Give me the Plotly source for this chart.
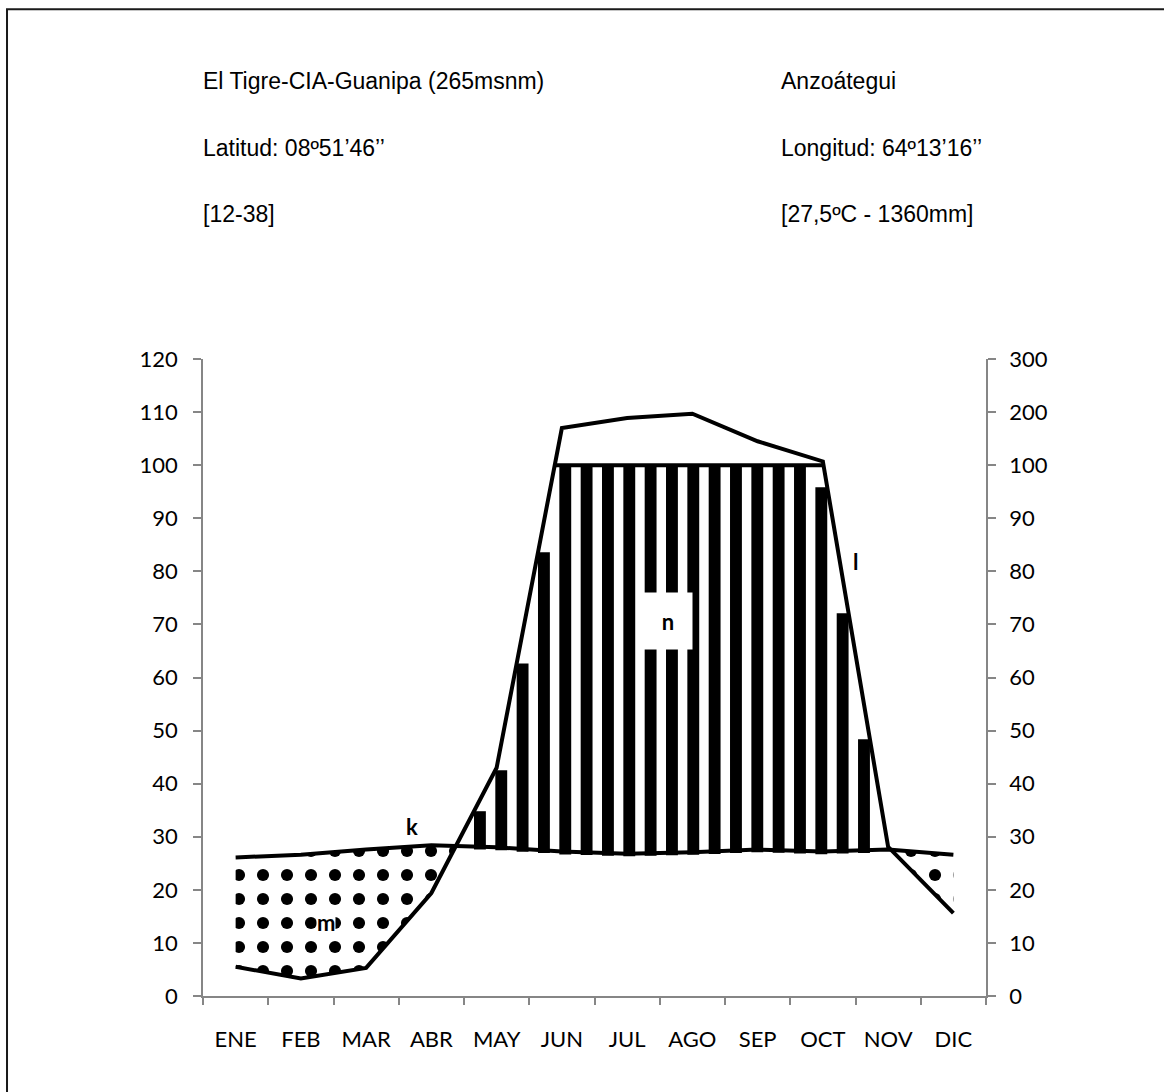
import numpy as np
import plotly.graph_objects as go

# ---- climate data -------------------------------------------------------
months = ["ENE", "FEB", "MAR", "ABR", "MAY", "JUN",
          "JUL", "AGO", "SEP", "OCT", "NOV", "DIC"]
temp_c = [26.1, 26.6, 27.6, 28.4, 28.0, 27.2, 26.8, 27.1, 27.6, 27.2, 27.6, 26.6]
precip_mm = [5.5, 3.3, 5.3, 19.4, 43.0, 170.0, 189.0, 197.0, 145.0, 107.0, 28.1, 15.6]

left_ticks = list(range(0, 121, 10))
right_ticks_mm = [0, 10, 20, 30, 40, 50, 60, 70, 80, 90, 100, 200, 300]

station = "El Tigre-CIA-Guanipa (265msnm)"
state = "Anzoátegui"
lat_txt = "Latitud: 08º51’46’’"
lon_txt = "Longitud: 64º13’16’’"
period_txt = "[12-38]"
means_txt = "[27,5ºC - 1360mm]"

FONT_TXT = "Liberation Sans, Arial, sans-serif"
FONT_AX = "Lato, Calibri, sans-serif"


def to_scale(mm):
    """Walter-Lieth scale: linear up to 100 mm, then 100 mm per 10 units."""
    mm = np.asarray(mm, dtype=float)
    return np.where(mm <= 100, mm, 100 + (mm - 100) / 10.0)


x = np.arange(len(months), dtype=float)
T = np.asarray(temp_c, dtype=float)
P = to_scale(precip_mm)


def dry_regions(xs, t, p):
    """Polygons of the periods where the temperature curve lies above rain."""
    d = p - t
    regions, cur = [], None
    for i in range(len(xs)):
        if i > 0 and (d[i - 1] > 0) != (d[i] > 0):
            f = d[i - 1] / (d[i - 1] - d[i])
            xc = xs[i - 1] + f * (xs[i] - xs[i - 1])
            yc = t[i - 1] + f * (t[i] - t[i - 1])
            if cur is None:
                cur = [(xc, yc, yc)]
            else:
                cur.append((xc, yc, yc))
                regions.append(cur)
                cur = None
        if d[i] <= 0:
            if cur is None:
                cur = []
            cur.append((xs[i], t[i], p[i]))
    if cur:
        regions.append(cur)
    polys = []
    for r in regions:
        px = [a for a, _, _ in r] + [a for a, _, _ in reversed(r)]
        py = [b for _, b, _ in r] + [c for _, _, c in reversed(r)]
        polys.append((px, py))
    return polys


fig = go.Figure()

# ---- humid period: vertical black hatching bars -------------------------
pitch, phase, bw = 0.327, 0.147, 0.182
hx = phase + pitch * np.arange(int((11.5 - phase) / pitch) + 1)
top = np.minimum(np.minimum(np.interp(hx - bw / 2, x, P),
                            np.interp(hx + bw / 2, x, P)), 100.0)
base = np.interp(hx, x, T) - 0.5
keep = (top - base) > 1.5
fig.add_trace(go.Bar(
    x=hx[keep], y=(top - base)[keep], base=base[keep], width=bw,
    marker=dict(color="black", line=dict(width=0)),
    hoverinfo="skip", showlegend=False,
))

# ---- dry periods: dotted fill --------------------------------------------
for px, py in dry_regions(x, T, P):
    fig.add_trace(go.Scatter(
        x=px, y=py, mode="none", fill="toself",
        fillcolor="rgba(0,0,0,0)",
        fillpattern=dict(shape=".", size=24, solidity=0.2,
                         fgcolor="black", fgopacity=1, bgcolor="white"),
        hoverinfo="skip", showlegend=False,
    ))

# ---- 100 mm cap line across the super-humid months ------------------------
above = np.where(P >= 100)[0]
if above.size:
    i0, i1 = above[0], above[-1]
    x_start = x[i0] if i0 == 0 else x[i0 - 1] + (100 - P[i0 - 1]) / (P[i0] - P[i0 - 1])
    x_end = x[i1] if i1 == len(x) - 1 else x[i1] + (P[i1] - 100) / (P[i1] - P[i1 + 1])
    cap_x = [x_start] + list(x[i0:i1 + 1]) + [x_end]
    fig.add_trace(go.Scatter(
        x=cap_x, y=[100.0] * len(cap_x), mode="lines",
        line=dict(color="black", width=4), hoverinfo="skip", showlegend=False,
    ))

# ---- temperature and precipitation curves --------------------------------
fig.add_trace(go.Scatter(x=x, y=T, mode="lines",
                         line=dict(color="black", width=4),
                         showlegend=False, name="Temperatura"))
fig.add_trace(go.Scatter(x=x, y=P, mode="lines",
                         line=dict(color="black", width=4),
                         showlegend=False, name="Precipitación"))

# ---- axes ---------------------------------------------------------------
AX_GRAY = "#868686"
tick_font = dict(family=FONT_AX, size=22, color="black")

fig.update_layout(
    width=1164, height=1092,
    margin=dict(l=203, r=178, t=359, b=96),
    paper_bgcolor="white", plot_bgcolor="white",
    showlegend=False, barmode="overlay",
    xaxis=dict(
        range=[-0.5, 11.5], tickmode="array", tickvals=list(x), ticktext=months,
        ticks="", showgrid=False, zeroline=False,
        showline=True, linecolor=AX_GRAY, linewidth=1.5,
        tickfont=tick_font, ticklabelstandoff=23,
    ),
    xaxis2=dict(
        overlaying="x", matches="x", side="bottom", range=[-0.5, 11.5],
        tickmode="array", tickvals=list(np.arange(-0.5, 12, 1.0)),
        ticks="outside", ticklen=8, tickwidth=1.5, tickcolor=AX_GRAY,
        showticklabels=False, showgrid=False, zeroline=False, showline=False,
    ),
    yaxis=dict(
        range=[0, 120], tickmode="array", tickvals=left_ticks,
        ticks="outside", ticklen=8, tickwidth=1.5, tickcolor=AX_GRAY,
        showgrid=False, zeroline=False,
        showline=True, linecolor=AX_GRAY, linewidth=1.5,
        tickfont=tick_font, ticklabelstandoff=11,
    ),
    yaxis2=dict(
        overlaying="y", side="right", range=[0, 120], tickmode="array",
        tickvals=list(to_scale(right_ticks_mm)),
        ticktext=[str(v) for v in right_ticks_mm],
        ticks="outside", ticklen=8, tickwidth=1.5, tickcolor=AX_GRAY,
        showgrid=False, zeroline=False,
        showline=True, linecolor=AX_GRAY, linewidth=1.5,
        tickfont=tick_font, ticklabelstandoff=9,
    ),
)

# dummy trace so the secondary axes are drawn
fig.add_trace(go.Scatter(x=[None], y=[None], xaxis="x2", yaxis="y2",
                         showlegend=False, hoverinfo="skip"))

# ---- curve labels -------------------------------------------------------
lab_font = dict(family=FONT_AX, size=22, color="black")
for txt, lx, ly in [("k", 2.70, 31.9), ("l", 9.50, 81.9)]:
    fig.add_annotation(x=lx, y=ly, xref="x", yref="y", text=f"<b>{txt}</b>",
                       showarrow=False, font=lab_font)
fig.add_annotation(x=1.38, y=13.8, xref="x", yref="y", text="<b>m</b>",
                   showarrow=False, font=lab_font, bgcolor="white", borderpad=0)
fig.add_annotation(x=6.62, y=70.7, xref="x", yref="y", text="<b>n</b>",
                   showarrow=False, font=lab_font, bgcolor="white",
                   width=44, height=52, borderpad=2)

# ---- station header -----------------------------------------------------
hdr_font = dict(family=FONT_TXT, size=23, color="black")
rows_y = [1.4364, 1.3312, 1.2276]
for (lt, rt), yy in zip([(station, state), (lat_txt, lon_txt),
                         (period_txt, means_txt)], rows_y):
    fig.add_annotation(x=-0.003, y=yy, xref="paper", yref="paper", text=lt,
                       showarrow=False, xanchor="left", yanchor="middle",
                       font=hdr_font)
    fig.add_annotation(x=0.735, y=yy, xref="paper", yref="paper", text=rt,
                       showarrow=False, xanchor="left", yanchor="middle",
                       font=hdr_font)

# ---- outer frame --------------------------------------------------------
fig.add_shape(type="rect", xref="paper", yref="paper",
              x0=-0.2503, y0=-0.3, x1=1.4, y1=1.549,
              line=dict(color="#1a1a1a", width=2), fillcolor="rgba(0,0,0,0)",
              layer="below")

fig.write_html("out.html")
